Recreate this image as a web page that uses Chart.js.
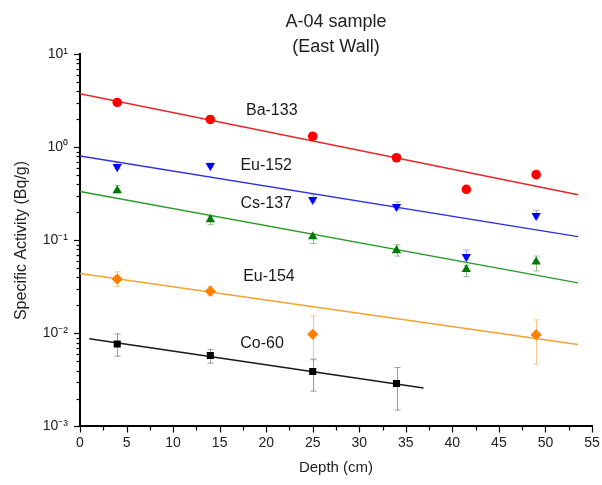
<!DOCTYPE html>
<html>
<head>
<meta charset="utf-8">
<script src="https://cdn.jsdelivr.net/npm/chart.js@4.4.0/dist/chart.umd.min.js"></script>
<style>
  html, body { margin: 0; padding: 0; background: #ffffff; }
  #wrap { width: 602px; height: 485px; }
</style>
</head>
<body>
<div id="wrap"><canvas id="chart"></canvas></div>
<script>
// Sampling depths (cm)
const depths = [4, 14, 25, 34, 41.5, 49];
const depthsEu154 = [4, 14, 25, 49];
const depthsCo60 = [4, 14, 25, 34];

// Measured specific activities (Bq/g) with uncertainty bounds
const ba133 = [3.05, 2.0, 1.32, 0.775, 0.355, 0.51];
const ba133Lo = [2.85, 1.88, 1.22, 0.72, 0.33, 0.47];
const ba133Hi = [3.25, 2.12, 1.42, 0.83, 0.38, 0.56];

const eu152 = [0.62, 0.635, 0.275, 0.231, 0.067, 0.185];
const eu152Lo = [0.59, 0.61, 0.26, 0.215, 0.062, 0.175];
const eu152Hi = [0.69, 0.68, 0.31, 0.26, 0.079, 0.212];

const cs137 = [0.345, 0.168, 0.11, 0.078, 0.049, 0.059];
const cs137Lo = [0.325, 0.148, 0.093, 0.068, 0.041, 0.047];
const cs137Hi = [0.39, 0.18, 0.118, 0.09, 0.054, 0.068];

const eu154 = [0.0385, 0.0285, 0.0098, 0.0097];
const eu154Lo = [0.032, 0.0255, 0.0052, 0.0047];
const eu154Hi = [0.046, 0.032, 0.0155, 0.014];

const co60 = [0.0077, 0.0058, 0.0039, 0.0029];
const co60Lo = [0.0057, 0.0048, 0.0024, 0.0015];
const co60Hi = [0.0099, 0.0067, 0.0053, 0.0043];

// Exponential depth-profile fits: end points (depth, activity)
const fitBaX = [0, 53.5], fitBaY = [3.79, 0.311];
const fitEu152X = [0, 53.5], fitEu152Y = [0.81, 0.110];
const fitCsX = [0, 53.5], fitCsY = [0.336, 0.035];
const fitEu154X = [0, 53.5], fitEu154Y = [0.0441, 0.0076];
const fitCoX = [1, 36.9], fitCoY = [0.0088, 0.0026];

// Axis ticks
const xTicks = [0, 5, 10, 15, 20, 25, 30, 35, 40, 45, 50, 55];
const yTickExponents = [-3, -2, -1, 0, 1];

// Nuclide names
const nuclides = ['Ba-133', 'Eu-152', 'Cs-137', 'Eu-154', 'Co-60'];

const FONT = "'Liberation Sans', Arial, Helvetica, sans-serif";
const pts = (xs, ys) => xs.map((x, i) => ({ x: x, y: ys[i] }));

// where each nuclide name sits, in data coordinates
const nameAnchors = [
  { x: 20.6, y: 2.51 },
  { x: 20.0, y: 0.645 },
  { x: 20.0, y: 0.252 },
  { x: 20.3, y: 0.0406 },
  { x: 19.55, y: 0.00776 }
];

const SUP = { '-': '\u207B', '0': '\u2070', '1': '\u00B9', '2': '\u00B2', '3': '\u00B3' };
const powLabel = e => '10' + String(e).split('').map(c => SUP[c]).join('');

function fitLine(xs, ys, color) {
  return {
    type: 'scatter', data: pts(xs, ys), showLine: true,
    borderColor: color, borderWidth: 1.5, pointRadius: 0, fill: false, order: 2
  };
}
function markers(xs, ys, lo, hi, color, errColor, style, radius, rotation) {
  return {
    type: 'scatter', data: pts(xs, ys), showLine: false,
    pointStyle: style, pointRadius: radius, pointRotation: rotation || 0,
    backgroundColor: color, borderColor: color, borderWidth: 0,
    errLo: lo, errHi: hi, errColor: errColor, order: 1
  };
}

// vertical error bars with caps
const errorBarPlugin = {
  id: 'errorBars',
  beforeDatasetsDraw(chart) {
    const { ctx, scales: { x, y } } = chart;
    ctx.save();
    ctx.beginPath();
    ctx.rect(chart.chartArea.left, chart.chartArea.top, chart.chartArea.width, chart.chartArea.height);
    ctx.clip();
    chart.data.datasets.forEach(ds => {
      if (!ds.errLo) return;
      ctx.strokeStyle = ds.errColor;
      ctx.lineWidth = 1;
      ds.data.forEach((p, i) => {
        const px = Math.round(x.getPixelForValue(p.x)) + 0.5;
        const yl = y.getPixelForValue(ds.errLo[i]);
        const yh = y.getPixelForValue(ds.errHi[i]);
        ctx.beginPath();
        ctx.moveTo(px, yl); ctx.lineTo(px, yh);
        ctx.moveTo(px - 3, yl); ctx.lineTo(px + 3, yl);
        ctx.moveTo(px - 3, yh); ctx.lineTo(px + 3, yh);
        ctx.stroke();
      });
    });
    ctx.restore();
  }
};

// outward tick marks: long on decades / multiples of 5, short in between
const tickMarkPlugin = {
  id: 'tickMarks',
  afterDraw(chart) {
    const { ctx, scales: { x, y } } = chart;
    ctx.save();
    ctx.strokeStyle = '#000';
    ctx.lineWidth = 1.2;
    const left = x.left, bottom = y.bottom;
    const eMin = Math.min(...yTickExponents), eMax = Math.max(...yTickExponents);
    for (let e = eMin; e <= eMax; e++) {
      for (let m = 1; m <= 9; m++) {
        if (e === eMax && m > 1) break;
        const py = Math.round(y.getPixelForValue(m * Math.pow(10, e))) + 0.5;
        const len = m === 1 ? 6 : 3.5;
        ctx.beginPath(); ctx.moveTo(left - len, py); ctx.lineTo(left, py); ctx.stroke();
      }
    }
    const xMax = xTicks[xTicks.length - 1];
    for (let v = xTicks[0]; v <= xMax + 1e-9; v += 2.5) {
      const px = Math.round(x.getPixelForValue(v)) + 0.5;
      const len = (Math.abs(v % 5) < 1e-9) ? 6 : 4;
      ctx.beginPath(); ctx.moveTo(px, bottom); ctx.lineTo(px, bottom + len); ctx.stroke();
    }
    ctx.restore();
  }
};

// nuclide names beside their profiles
const namePlugin = {
  id: 'nuclideNames',
  afterDatasetsDraw(chart) {
    const { ctx, scales: { x, y } } = chart;
    ctx.save();
    ctx.font = '16px ' + FONT;
    ctx.fillStyle = '#1a1a1a';
    ctx.textAlign = 'center';
    ctx.textBaseline = 'middle';
    nuclides.forEach((name, i) => {
      const a = nameAnchors[i];
      ctx.fillText(name, x.getPixelForValue(a.x), y.getPixelForValue(a.y));
    });
    ctx.restore();
  }
};

const datasets = [
  fitLine(fitBaX, fitBaY, '#e8262a'),
  fitLine(fitEu152X, fitEu152Y, '#3030e0'),
  fitLine(fitCsX, fitCsY, '#2a9a2a'),
  fitLine(fitEu154X, fitEu154Y, '#f5a230'),
  fitLine(fitCoX, fitCoY, '#1a1a1a'),
  markers(depths, ba133, ba133Lo, ba133Hi, '#ff0000', '#f3a0a0', 'circle', 4.8),
  markers(depths, eu152, eu152Lo, eu152Hi, '#0000ff', '#a8a8f0', 'triangle', 5.4, 180),
  markers(depths, cs137, cs137Lo, cs137Hi, '#007a00', '#90c090', 'triangle', 5.4),
  markers(depthsEu154, eu154, eu154Lo, eu154Hi, '#ff8000', '#f8c68a', 'rectRot', 5.6),
  markers(depthsCo60, co60, co60Lo, co60Hi, '#000000', '#9a9a9a', 'rect', 5.0)
];

new Chart(document.getElementById('chart'), {
  type: 'scatter',
  data: { datasets: datasets },
  plugins: [errorBarPlugin, tickMarkPlugin, namePlugin],
  options: {
    responsive: true,
    maintainAspectRatio: false,
    animation: false,
    devicePixelRatio: 1,
    layout: { padding: { left: 0, right: 10, top: 0, bottom: 0 } },
    plugins: {
      legend: { display: false },
      tooltip: { enabled: false },
      title: {
        display: true,
        fullSize: false,
        text: ['A-04 sample', '(East Wall)'],
        color: '#222222',
        font: { family: FONT, size: 18, weight: 'normal', lineHeight: 1.36 },
        padding: { top: 10, bottom: -4.5 }
      }
    },
    scales: {
      x: {
        type: 'linear',
        min: xTicks[0],
        max: xTicks[xTicks.length - 1],
        afterBuildTicks: s => { s.ticks = xTicks.map(v => ({ value: v })); },
        afterFit: s => { s.height = 58.5; s.paddingRight = 0; s.paddingLeft = 0; },
        grid: { display: false, drawTicks: false },
        border: { display: true, color: '#000', width: 2 },
        ticks: {
          color: '#222222', padding: 8, maxRotation: 0, autoSkip: false,
          font: { family: FONT, size: 14 }
        },
        title: {
          display: true, text: 'Depth (cm)', color: '#222222',
          font: { family: FONT, size: 15, lineHeight: 1.2 },
          padding: { top: 0, bottom: 8 }
        }
      },
      y: {
        type: 'logarithmic',
        min: Math.pow(10, Math.min(...yTickExponents)),
        max: Math.pow(10, Math.max(...yTickExponents)),
        afterBuildTicks: s => { s.ticks = yTickExponents.map(e => ({ value: Math.pow(10, e) })); },
        afterFit: s => { s.width = 80; },
        grid: { display: false, drawTicks: false },
        border: { display: true, color: '#000', width: 2 },
        ticks: {
          color: '#222222', padding: 12, autoSkip: false,
          font: { family: FONT, size: 14 },
          callback: v => powLabel(Math.round(Math.log10(v)))
        },
        title: {
          display: true, text: 'Specific Activity (Bq/g)', color: '#222222',
          font: { family: FONT, size: 16, lineHeight: 1.2 },
          padding: { top: 12, bottom: 0 }
        }
      }
    }
  }
});
</script>
</body>
</html>
